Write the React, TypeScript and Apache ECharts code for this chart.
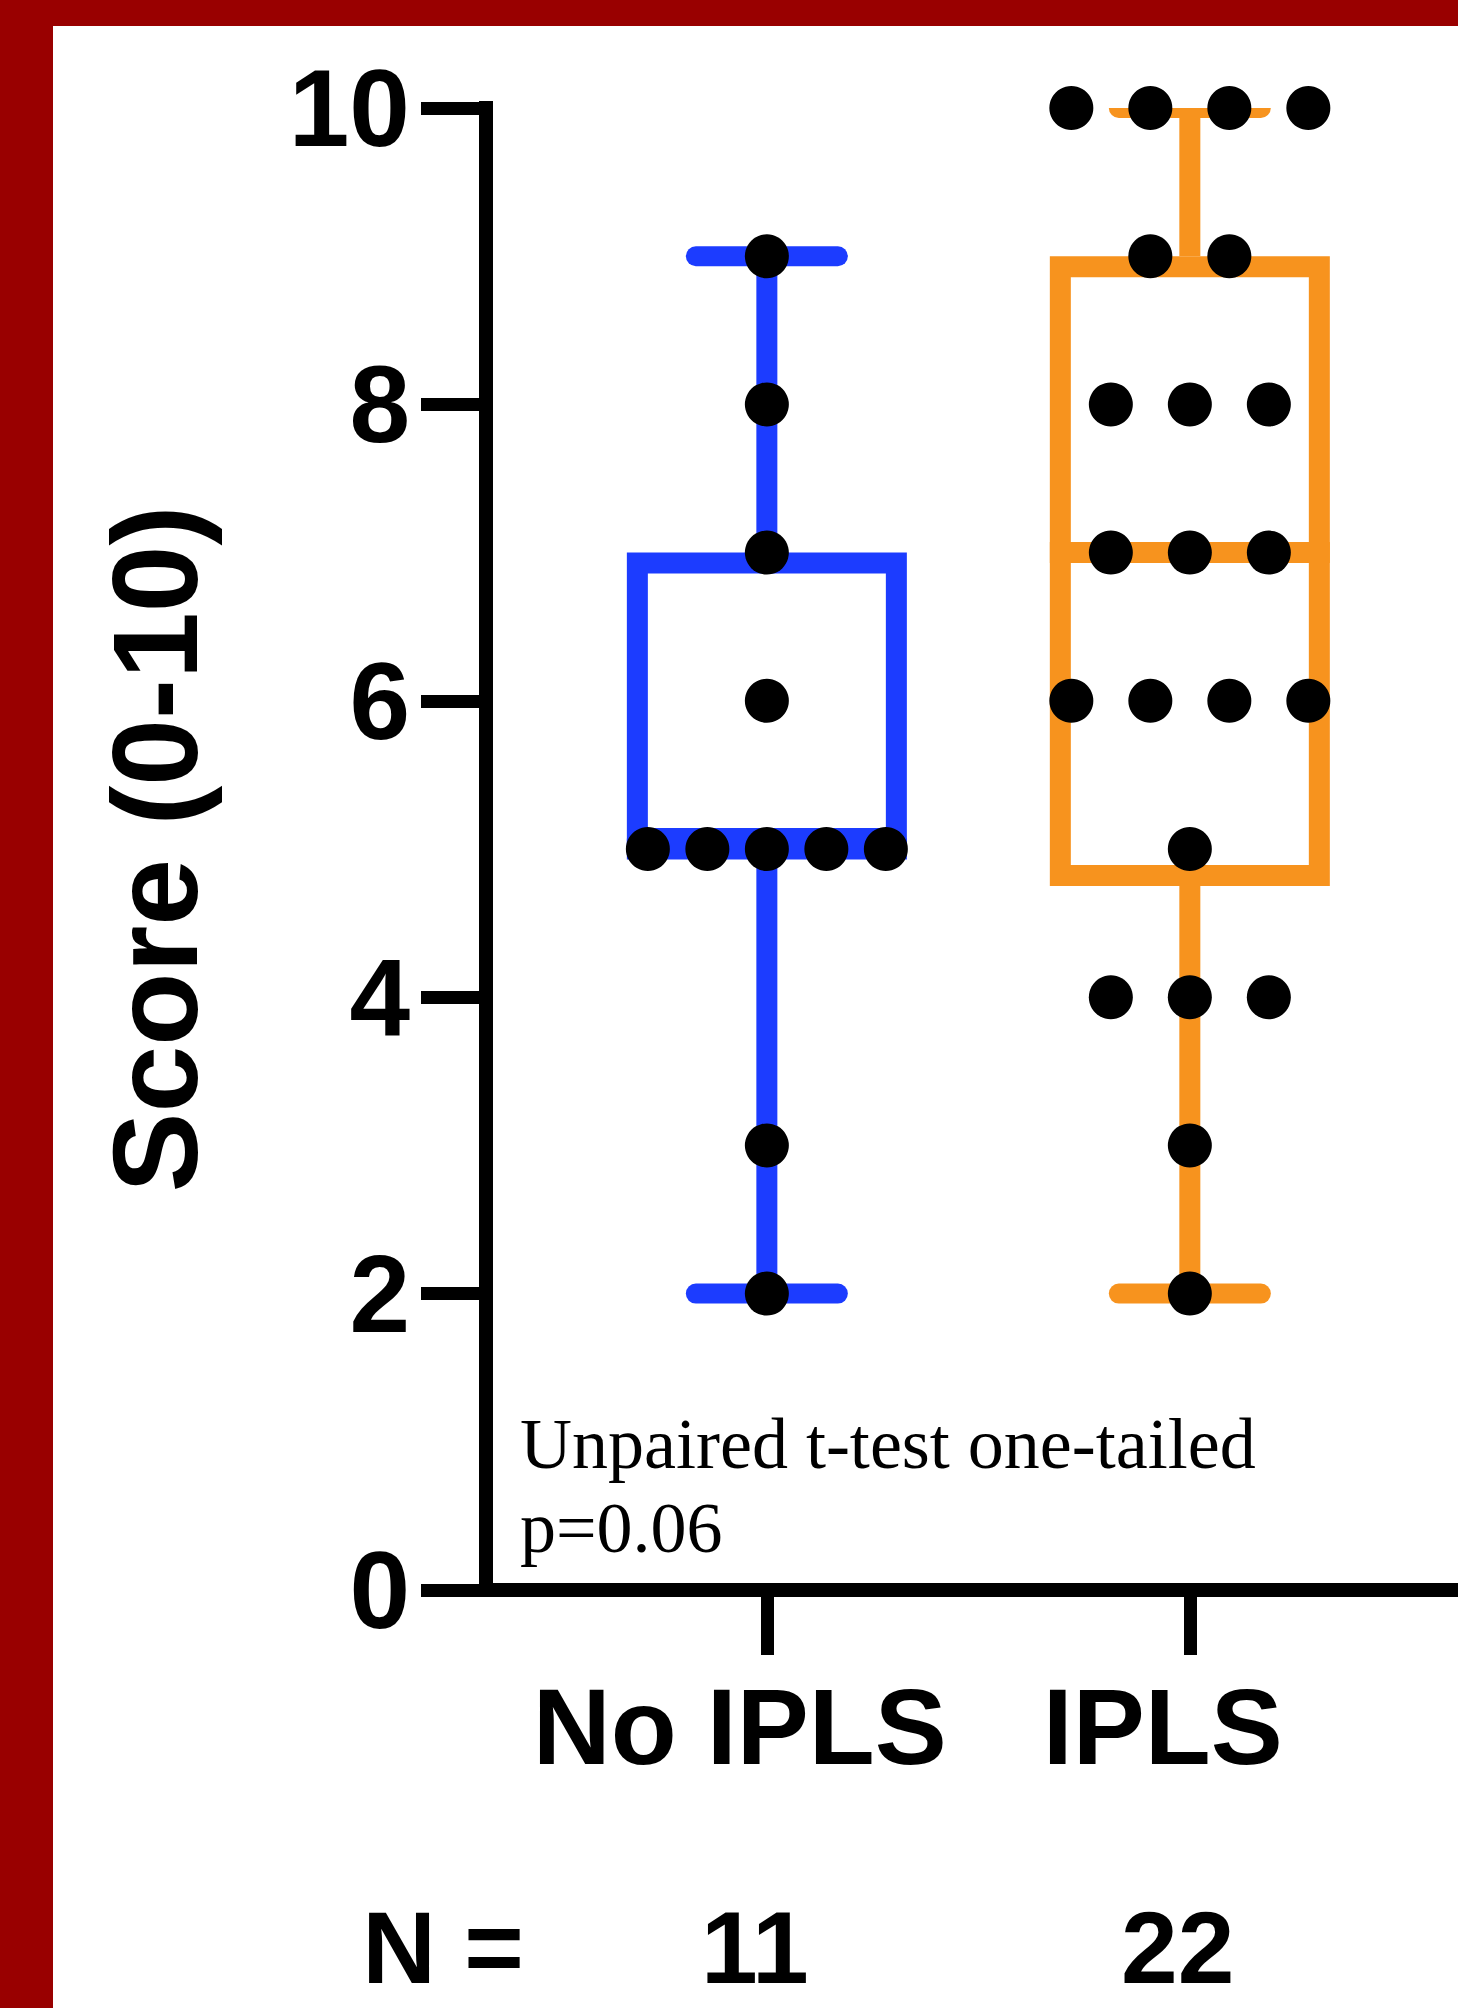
import React, { useEffect, useRef } from "react";
import * as echarts from "echarts";

// ---- data ----
const categories = ["No IPLS", "IPLS"];
const groupPositions = [1, 2];
const nCounts = [11, 22];
const noIplsScores = [9, 8, 7, 6, 5, 5, 5, 5, 5, 3, 2];
const iplsScores = [10, 10, 10, 10, 9, 9, 8, 8, 8, 7, 7, 7, 6, 6, 6, 6, 5, 4, 4, 4, 3, 2];
// box statistics: [min, Q1, median, Q3, max]
const noIplsBox = [2, 5, 5, 7, 9];
const iplsBox = [2, 4.75, 7, 9, 10];
const yMin = 0;
const yMax = 10;
const yInterval = 2;
const annotationLines = ["Unpaired t-test one-tailed", "p=0.06"];

// ---- style ----
const groupColors = ["#1c3cff", "#f7931e"];
const dotSpacingPx = [59.5, 79];
const FRAME_RED = "#990000";
const SANS = '"Liberation Sans", Arial, sans-serif';
const SERIF = '"Liberation Serif", "Times New Roman", serif';

function jitter(scores: number[], pos: number, spacing: number) {
  const counts: Record<number, number> = {};
  const seen: Record<number, number> = {};
  scores.forEach((s) => (counts[s] = (counts[s] || 0) + 1));
  return scores.map((s) => {
    const k = seen[s] || 0;
    seen[s] = k + 1;
    return {
      value: [pos, s],
      symbolOffset: [(k - (counts[s] - 1) / 2) * spacing, 0],
    };
  });
}

export default function App() {
  const ref = useRef<HTMLDivElement>(null);

  useEffect(() => {
    document.body.style.margin = "0";
    if (!ref.current) return;
    const chart = echarts.init(ref.current, null, { renderer: "svg" });

    const LW = 21;
    const BOX_HALF = 140;
    const CAP_HALF = 71;

    const xMinV = 0.336;
    const xMaxV = 2.634;

    const option: any = {
      animation: false,
      backgroundColor: "#ffffff",
      grid: { left: 486, top: 108, right: 0, bottom: 418, containLabel: false },
      xAxis: [
        {
          type: "value",
          min: xMinV,
          max: xMaxV,
          splitLine: { show: false },
          axisLine: { show: true, lineStyle: { color: "#000", width: 14, cap: "square" } },
          axisTick: {
            show: true,
            customValues: groupPositions,
            length: 65,
            lineStyle: { color: "#000", width: 13 },
          },
          axisLabel: {
            show: true,
            customValues: groupPositions,
            formatter: (v: number) => categories[Math.round(v) - 1] ?? "",
            color: "#000",
            fontFamily: SANS,
            fontWeight: "bold",
            fontSize: 108,
            lineHeight: 90,
            margin: 91,
            padding: [0, 54, 0, 0],
          },
        },
        {
          type: "value",
          position: "bottom",
          offset: 229,
          min: xMinV,
          max: xMaxV,
          splitLine: { show: false },
          axisLine: { show: false },
          axisTick: { show: false },
          axisLabel: {
            show: true,
            customValues: groupPositions,
            formatter: (v: number) => String(nCounts[Math.round(v) - 1] ?? ""),
            color: "#000",
            fontFamily: SANS,
            fontWeight: "bold",
            fontSize: 102,
            lineHeight: 90,
            margin: 84,
            padding: [0, 24, 0, 0],
          },
        },
      ],
      yAxis: {
        type: "value",
        min: yMin,
        max: yMax,
        interval: yInterval,
        splitLine: { show: false },
        axisLine: { show: true, lineStyle: { color: "#000", width: 14, cap: "square" } },
        axisTick: { show: true, length: 65, lineStyle: { color: "#000", width: 13 } },
        axisLabel: {
          color: "#000",
          fontFamily: SANS,
          fontWeight: "bold",
          fontSize: 109,
          margin: 76,
        },
        name: "Score (0-10)",
        nameLocation: "middle",
        nameGap: 271,
        nameTextStyle: {
          color: "#000",
          fontFamily: SANS,
          fontWeight: "bold",
          fontSize: 120,
        },
      },
      series: [
        {
          type: "custom",
          clip: true,
          z: 2,
          encode: { x: 0, y: [1, 2, 3, 4, 5] },
          data: [
            [groupPositions[0], ...noIplsBox],
            [groupPositions[1], ...iplsBox],
          ],
          renderItem: (params: any, api: any) => {
            const x = api.value(0);
            const [cx, yMinPx] = api.coord([x, api.value(1)]);
            const yQ1 = api.coord([x, api.value(2)])[1];
            const yMed = api.coord([x, api.value(3)])[1];
            const yQ3 = api.coord([x, api.value(4)])[1];
            const yMaxPx = api.coord([x, api.value(5)])[1];
            const color = groupColors[params.dataIndex];
            return {
              type: "group",
              children: [
                {
                  type: "line",
                  shape: { x1: cx, y1: yQ1, x2: cx, y2: yMinPx },
                  style: { stroke: color, lineWidth: LW },
                },
                {
                  type: "line",
                  shape: { x1: cx, y1: yQ3, x2: cx, y2: yMaxPx },
                  style: { stroke: color, lineWidth: LW },
                },
                {
                  type: "line",
                  shape: { x1: cx - CAP_HALF, y1: yMinPx, x2: cx + CAP_HALF, y2: yMinPx },
                  style: { stroke: color, lineWidth: 20, lineCap: "round" },
                },
                {
                  type: "line",
                  shape: { x1: cx - CAP_HALF, y1: yMaxPx, x2: cx + CAP_HALF, y2: yMaxPx },
                  style: { stroke: color, lineWidth: 20, lineCap: "round" },
                },
                {
                  type: "rect",
                  shape: {
                    x: cx - BOX_HALF + LW / 2,
                    y: yQ3 + LW / 2,
                    width: 2 * BOX_HALF - LW,
                    height: yQ1 - yQ3 - LW,
                  },
                  style: { fill: "#ffffff", stroke: color, lineWidth: LW },
                },
                {
                  type: "line",
                  shape: { x1: cx - BOX_HALF, y1: yMed, x2: cx + BOX_HALF, y2: yMed },
                  style: { stroke: color, lineWidth: LW },
                },
              ],
            };
          },
        },
        {
          type: "scatter",
          name: categories[0],
          clip: false,
          z: 5,
          symbol: "circle",
          symbolSize: 44,
          itemStyle: { color: "#000", opacity: 1 },
          data: jitter(noIplsScores, groupPositions[0], dotSpacingPx[0]),
        },
        {
          type: "scatter",
          name: categories[1],
          clip: false,
          z: 5,
          symbol: "circle",
          symbolSize: 44,
          itemStyle: { color: "#000", opacity: 1 },
          data: jitter(iplsScores, groupPositions[1], dotSpacingPx[1]),
        },
      ],
      graphic: [
        {
          type: "rect",
          z: 100,
          shape: { x: 0, y: 0, width: 1458, height: 26 },
          style: { fill: FRAME_RED },
        },
        {
          type: "rect",
          z: 100,
          shape: { x: 0, y: 0, width: 53, height: 2008 },
          style: { fill: FRAME_RED },
        },
        {
          type: "text",
          z: 50,
          x: 520,
          y: 1444,
          style: {
            text: annotationLines[0],
            fill: "#000",
            fontFamily: SERIF,
            fontSize: 72,
            align: "left",
            verticalAlign: "middle",
            textAlign: "left",
            textVerticalAlign: "middle",
          },
        },
        {
          type: "text",
          z: 50,
          x: 520,
          y: 1528,
          style: {
            text: annotationLines[1],
            fill: "#000",
            fontFamily: SERIF,
            fontSize: 72,
            align: "left",
            verticalAlign: "middle",
            textAlign: "left",
            textVerticalAlign: "middle",
          },
        },
        {
          type: "text",
          z: 50,
          x: 443,
          y: 1948,
          style: {
            text: "N =",
            fill: "#000",
            fontFamily: SANS,
            fontWeight: "bold",
            fontSize: 102,
            lineHeight: 90,
            align: "center",
            verticalAlign: "middle",
            textAlign: "center",
            textVerticalAlign: "middle",
          },
        },
      ],
    };

    chart.setOption(option);
    return () => chart.dispose();
  }, []);

  return (
    <div
      ref={ref}
      style={{ position: "absolute", left: 0, top: 0, width: 1458, height: 2008 }}
    />
  );
}
